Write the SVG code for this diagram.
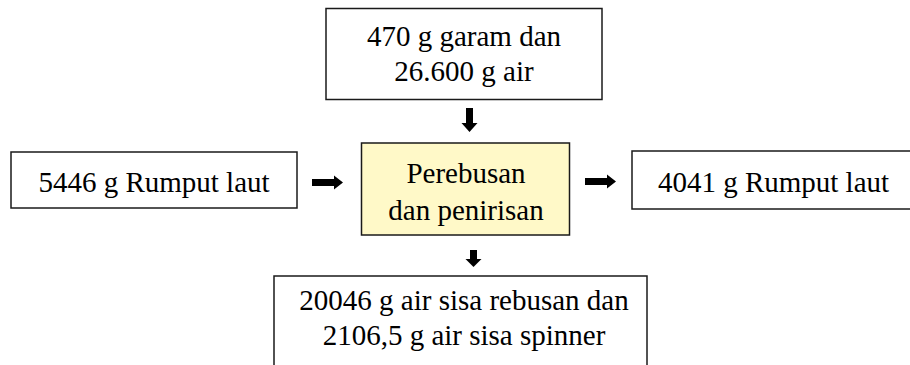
<svg xmlns="http://www.w3.org/2000/svg" width="910" height="365" viewBox="0 0 910 365">
<style>
.box{fill:#ffffff;stroke:#1a1a1a;stroke-width:1.5}
.proc{fill:#fff9c8;stroke:#1a1a1a;stroke-width:1.5}
text{font-family:"Liberation Serif","Times New Roman",serif;font-size:29px;fill:#000;text-anchor:middle}
.arr{fill:#000}
</style>
<g id="input-top">
<rect class="box" x="326" y="8.5" width="276" height="91"/>
<text x="464" y="46">470 g garam dan</text>
<text x="464" y="81">26.600 g air</text>
</g>
<g id="input-left">
<rect class="box" x="11" y="152" width="286" height="56"/>
<text x="154" y="192">5446 g Rumput laut</text>
</g>
<g id="process">
<rect class="proc" x="361.5" y="143" width="208" height="92"/>
<text x="466" y="183">Perebusan</text>
<text x="466" y="220">dan penirisan</text>
</g>
<g id="output-right">
<rect class="box" x="632" y="151" width="290" height="58"/>
<text x="773.5" y="192">4041 g Rumput laut</text>
</g>
<g id="output-bottom">
<rect class="box" x="274" y="276" width="373" height="100"/>
<text x="464" y="310">20046 g air sisa rebusan dan</text>
<text x="464" y="345">2106,5 g air sisa spinner</text>
</g>
<g id="connectors">
<polygon class="arr" points="466,108 473,108 473,123 477.5,123 469.5,132 461.5,123 466,123"/>
<polygon class="arr" points="312,179 334,179 334,175.5 343,182.5 334,189.5 334,186 312,186"/>
<polygon class="arr" points="585,178 607,178 607,174.5 616,181.5 607,188.5 607,185 585,185"/>
<polygon class="arr" points="470,250 477,250 477,259 481.5,259 473.5,267 465.5,259 470,259"/>
</g>
</svg>
